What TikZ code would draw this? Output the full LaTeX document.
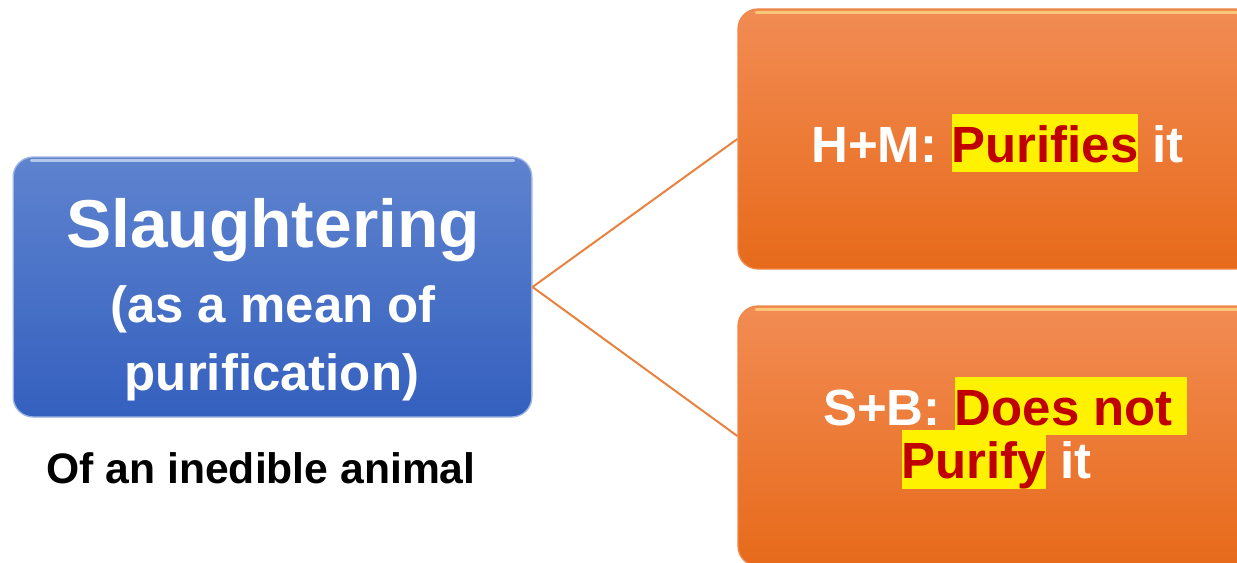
\documentclass[tikz,border=0pt]{standalone}
\usepackage{fontspec}
\setmainfont{Liberation Sans}
\definecolor{bluetop}{RGB}{94,131,207}
\definecolor{bluebot}{RGB}{52,96,190}
\definecolor{orangetop}{RGB}{242,140,84}
\definecolor{orangebot}{RGB}{231,106,26}
\definecolor{linkorange}{RGB}{232,130,62}
\definecolor{darkred}{RGB}{192,0,0}
\newcommand{\hlword}[1]{{\setlength{\fboxsep}{0pt}\colorbox{yellow}{\rule[-0.19em]{0pt}{1.14em}\textcolor{darkred}{#1}}}}
\begin{document}
\begin{tikzpicture}[x=0.75pt,y=-0.75pt,
    bluebox/.style={rounded corners=15pt,minimum width=389pt,minimum height=195pt,
      draw=bluetop!60!white,line width=1pt,top color=bluetop,bottom color=bluebot},
    orangebox/.style={rounded corners=15pt,minimum width=388.5pt,minimum height=195pt,
      draw=orangebot!80!white,line width=1pt,top color=orangetop,bottom color=orangebot},
    gloss/.style={line width=2pt,line cap=round,opacity=0.55},
    boxtext/.style={anchor=base,inner sep=0pt,text=white,font=\bfseries\fontsize{38.2pt}{46pt}\selectfont},
    link/.style={draw=linkorange,line width=1.5pt}]
    \useasboundingbox (0,0) rectangle (1237,563);
    \clip (0,0) rectangle (1237,563);

    \node[bluebox] (slaught) at (272.5,287) {};
    \node[orangebox] (purif) at (997,139) {};
    \node[orangebox] (nopurif) at (997,436) {};

    \draw[gloss,white] ([xshift=14pt,yshift=-3pt]slaught.north west) -- ([xshift=-14pt,yshift=-3pt]slaught.north east);
    \draw[gloss,yellow!40!white] ([xshift=14pt,yshift=-3pt]purif.north west) -- ([xshift=-14pt,yshift=-3pt]purif.north east);
    \draw[gloss,yellow!40!white] ([xshift=14pt,yshift=-3pt]nopurif.north west) -- ([xshift=-14pt,yshift=-3pt]nopurif.north east);

    \draw[link] (slaught.east) -- (purif.west);
    \draw[link] (slaught.east) -- (nopurif.west);

    \node[boxtext,font=\bfseries\fontsize{50.8pt}{60pt}\selectfont] (slaughttxt) at (273,247) {Slaughtering};
    \node[boxtext] (meantxt) at (273,322) {(as a mean of};
    \node[boxtext] (purtxt) at (272,390) {purification)};
    \node[boxtext,text=black,font=\bfseries\fontsize{32pt}{38pt}\selectfont] (inedtxt) at (261,483) {Of an inedible animal};

    \node[boxtext] (hmtxt) at (997.5,162) {H+M: \hlword{Purifies} it};
    \node[boxtext] (sbtxt) at (1005,425) {S+B: \hlword{Does not\ }};
    \node[boxtext] (sbtxtb) at (996.5,478) {\hlword{Purify} it};
\end{tikzpicture}
\end{document}
